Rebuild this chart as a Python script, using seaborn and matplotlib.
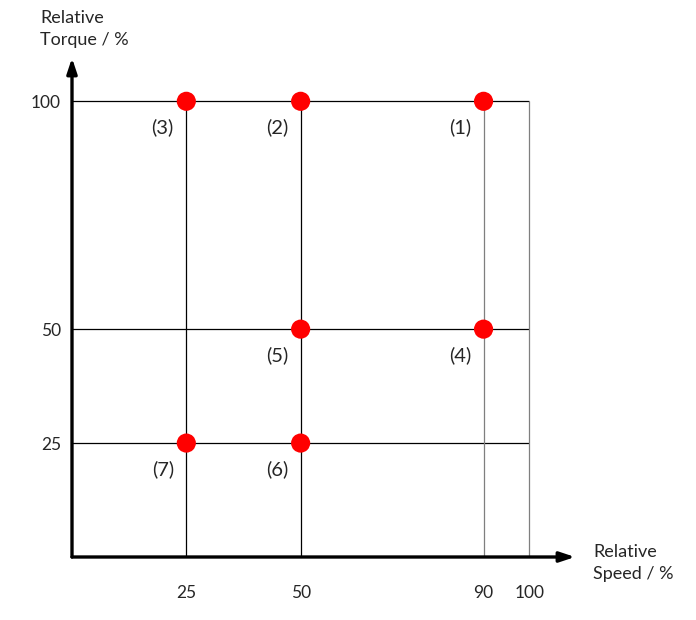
import matplotlib
matplotlib.use("Agg")
import matplotlib.pyplot as plt
import seaborn as sns
import pandas as pd

# --- data ---
point_labels = ["(1)", "(2)", "(3)", "(4)", "(5)", "(6)", "(7)"]
point_speed = [90, 50, 25, 90, 50, 50, 25]
point_torque = [100, 100, 100, 50, 50, 25, 25]

h_lines = [100, 50, 25]          # torque levels
v_lines_black = [25, 50]         # speed levels
v_lines_gray = [90, 100]
x_ticks = [25, 50, 90, 100]
y_ticks = [25, 50, 100]

sns.set_style("white")
plt.rcParams['font.family'] = ['Lato', 'DejaVu Sans']

fig = plt.figure(figsize=(6.96, 6.2), dpi=100)
ax = fig.add_axes([72 / 696, 63 / 620, 503 / 696, 499 / 620])
ax.set_xlim(0, 110)
ax.set_ylim(0, 109.5)

ax.hlines(h_lines, 0, 100, color="black", lw=0.9, zorder=1)
ax.vlines(v_lines_black, 0, 100, color="black", lw=0.9, zorder=1)
ax.vlines(v_lines_gray, 0, 100, color="#7f7f7f", lw=0.9, zorder=1)

df = pd.DataFrame({"speed": point_speed, "torque": point_torque, "label": point_labels})
sns.scatterplot(data=df, x="speed", y="torque", color="#ff0000", s=190,
                edgecolor="none", ax=ax, zorder=3, clip_on=False)
for _, r in df.iterrows():
    ax.annotate(r["label"], (r["speed"], r["torque"]), xytext=(-17, -19),
                textcoords="offset points", ha="center", va="center", fontsize=14.5)

# axis arrows
ax.annotate("", xy=(110, 0), xytext=(0, 0),
            arrowprops=dict(arrowstyle="-|>,head_length=0.9,head_width=0.3", lw=2.4, color="black",
                            shrinkA=0, shrinkB=0), annotation_clip=False)
ax.annotate("", xy=(0, 109.5), xytext=(0, 0),
            arrowprops=dict(arrowstyle="-|>,head_length=0.9,head_width=0.3", lw=2.4, color="black",
                            shrinkA=0, shrinkB=0), annotation_clip=False)

for s in ax.spines.values():
    s.set_visible(False)
ax.set_xticks(x_ticks)
ax.set_yticks(y_ticks)
ax.tick_params(length=0, labelsize=12.5)
ax.tick_params(axis="x", pad=20)
ax.tick_params(axis="y", pad=8)
ax.set_xlabel("")
ax.set_ylabel("")

fig.text(40 / 696, 1 - 29 / 620, "Relative\nTorque / %", fontsize=13, ha="left", va="center", linespacing=1.45)
fig.text(593 / 696, 1 - 563 / 620, "Relative\nSpeed / %", fontsize=13, ha="left", va="center", linespacing=1.45)

fig.savefig("out.png", dpi=100)
